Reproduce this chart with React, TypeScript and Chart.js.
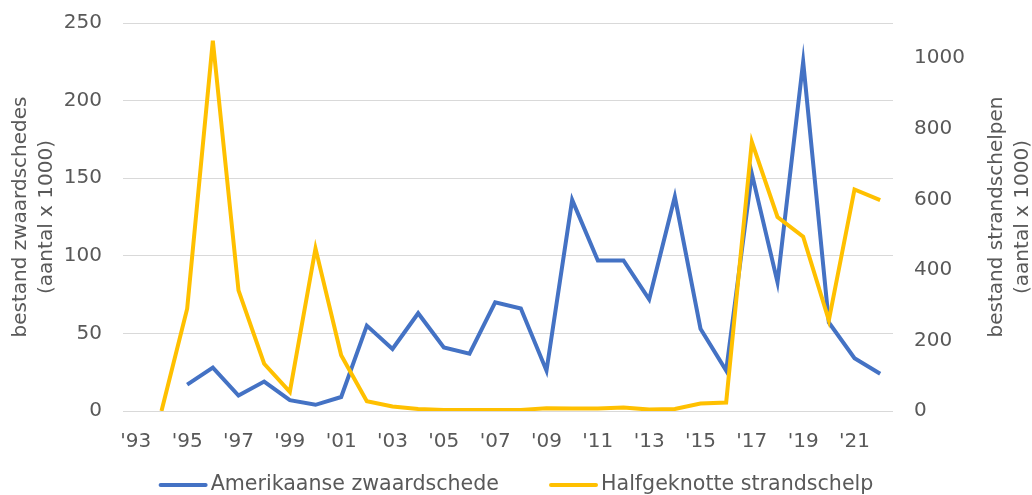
import React, { useEffect, useRef } from "react";
import { Chart, registerables } from "chart.js";

Chart.register(...registerables);

const years = [
  "1993", "1994", "1995", "1996", "1997", "1998", "1999", "2000", "2001", "2002",
  "2003", "2004", "2005", "2006", "2007", "2008", "2009", "2010", "2011", "2012",
  "2013", "2014", "2015", "2016", "2017", "2018", "2019", "2020", "2021", "2022",
];

const zwaardschede = [
  null, null, 17, 28, 10, 19, 7, 4, 9, 55,
  40, 63, 41, 37, 70, 66, 26, 136, 97, 97,
  72, 138, 53, 26, 153, 83, 225, 57, 34, 24,
];

const strandschelp = [
  null, 0, 290, 1050, 342, 134, 54, 461, 158, 28,
  13, 6, 3, 3, 3, 3, 8, 7, 7, 10,
  4, 6, 21, 24, 763, 550, 494, 257, 628, 598,
];

const seriesNames = ["Amerikaanse zwaardschede", "Halfgeknotte strandschelp"];
const seriesColors = ["#4472C4", "#FFC000"];
const leftTitle = ["bestand zwaardschedes", "(aantal x 1000)"];
const rightTitle = ["bestand strandschelpen", "(aantal x 1000)"];

const FONT = "'DejaVu Sans', Verdana, sans-serif";
const FS = 20;
const LEG_FS = 20.6;
const TXT = "#595959";

const decorPlugin = {
  id: "decor",
  afterDraw(chart: any) {
    const ctx = chart.ctx;
    const area = chart.chartArea;
    const cy = (area.top + area.bottom) / 2;
    ctx.save();
    ctx.fillStyle = TXT;
    ctx.font = `${FS}px ${FONT}`;
    ctx.textAlign = "center";
    ctx.textBaseline = "middle";
    const drawTitle = (lines: string[], x0: number) => {
      lines.forEach((t, i) => {
        ctx.save();
        ctx.translate(x0 + i * 26, cy);
        ctx.rotate(-Math.PI / 2);
        ctx.fillText(t, 0, 0);
        ctx.restore();
      });
    };
    drawTitle(leftTitle, 21);
    drawTitle(rightTitle, 997);

    // legend
    ctx.font = `${LEG_FS}px ${FONT}`;
    const lineLen = 49;
    const gapText = 3;
    const gapItem = 50;
    const items = chart.data.datasets.map((d: any) => ({
      label: d.label,
      color: d.borderColor,
      w: ctx.measureText(d.label).width,
    }));
    let total = 0;
    items.forEach((it: any, i: number) => {
      total += lineLen + gapText + it.w + (i < items.length - 1 ? gapItem : 0);
    });
    let x = (chart.width - total) / 2;
    const y = 485;
    ctx.textAlign = "left";
    items.forEach((it: any) => {
      ctx.strokeStyle = it.color;
      ctx.lineWidth = 4;
      ctx.lineCap = "round";
      ctx.beginPath();
      ctx.moveTo(x + 2, y);
      ctx.lineTo(x + lineLen - 2, y);
      ctx.stroke();
      ctx.fillText(it.label, x + lineLen + gapText, y);
      x += lineLen + gapText + it.w + gapItem;
    });
    ctx.restore();
  },
};

export default function App() {
  const ref = useRef<HTMLCanvasElement | null>(null);

  useEffect(() => {
    if (!ref.current) return;
    const chart = new Chart(ref.current, {
      type: "line",
      data: {
        labels: years,
        datasets: [
          {
            label: seriesNames[0],
            data: zwaardschede,
            borderColor: seriesColors[0],
            backgroundColor: seriesColors[0],
            borderWidth: 4,
            pointRadius: 0,
            tension: 0,
            yAxisID: "y",
            order: 2,
          },
          {
            label: seriesNames[1],
            data: strandschelp,
            borderColor: seriesColors[1],
            backgroundColor: seriesColors[1],
            borderWidth: 4,
            pointRadius: 0,
            tension: 0,
            yAxisID: "y1",
            order: 1,
          },
        ],
      },
      options: {
        animation: false,
        responsive: true,
        maintainAspectRatio: false,
        layout: { padding: { top: 23, left: 0, right: 0, bottom: 0 } },
        plugins: {
          legend: { display: false },
          tooltip: { enabled: false },
        },
        scales: {
          x: {
            type: "category",
            offset: true,
            grid: { display: false, drawTicks: false },
            border: { display: false },
            afterFit: (s: any) => {
              s.height = 84;
              s.paddingLeft = 0;
              s.paddingRight = 0;
            },
            ticks: {
              autoSkip: false,
              maxRotation: 0,
              padding: 19,
              color: TXT,
              font: { family: FONT, size: FS },
              callback: (_v: any, i: number) =>
                i % 2 === 0 ? "'" + years[i].slice(2) : "",
            },
          },
          y: {
            position: "left",
            min: 0,
            max: 250,
            afterFit: (s: any) => {
              s.width = 123;
              s.paddingTop = 0;
              s.paddingBottom = 0;
            },
            grid: { color: "#D9D9D9", lineWidth: 1, drawTicks: false },
            border: { display: false },
            ticks: {
              stepSize: 50,
              padding: 21,
              color: TXT,
              font: { family: FONT, size: FS },
            },
          },
          y1: {
            position: "right",
            min: 0,
            max: 1100,
            afterFit: (s: any) => {
              s.width = 139;
              s.paddingTop = 0;
              s.paddingBottom = 0;
            },
            grid: { display: false, drawTicks: false },
            border: { display: false },
            ticks: {
              stepSize: 200,
              includeBounds: false,
              padding: 21,
              color: TXT,
              font: { family: FONT, size: FS },
              callback: (v: any) => (Number(v) % 200 === 0 ? String(v) : ""),
            },
          },
        },
      },
      plugins: [decorPlugin],
    });
    return () => chart.destroy();
  }, []);

  return (
    <div style={{ position: "absolute", left: 0, top: 0, width: 1032, height: 495, background: "#fff" }}>
      <canvas ref={ref} />
    </div>
  );
}
